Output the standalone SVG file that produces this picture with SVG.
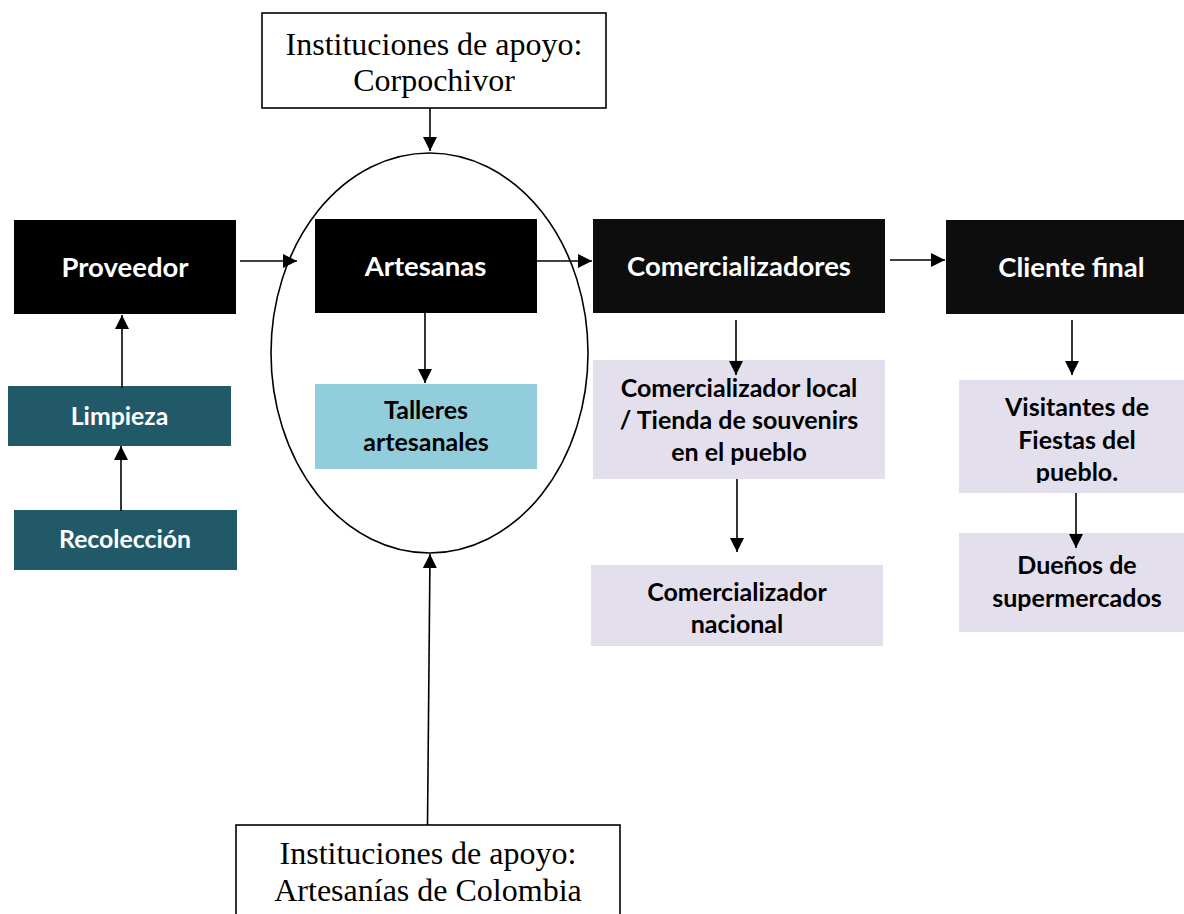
<svg xmlns="http://www.w3.org/2000/svg" width="1184" height="914" viewBox="0 0 1184 914">
<style>
.blk{fill:#000}
.blk2{fill:#0d0d0d}
.teal{fill:#215968}
.lblue{fill:#92cddc}
.lav{fill:#e4dfec}
.inst{fill:#fff;stroke:#000;stroke-width:1.6}
.t{font-family:Lato,"Open Sans","Liberation Sans",sans-serif;font-weight:bold;text-anchor:middle}
.tw{fill:#fff;font-size:27.5px}
.ts{fill:#fff;font-size:24.8px}
.tb{fill:#000;font-size:25px}
.serif{font-family:"Liberation Serif","Times New Roman",serif;font-size:32px;fill:#000;text-anchor:middle}
.c line{stroke:#000;stroke-width:1.6;marker-end:url(#ah)}
</style>
<defs>
<marker id="ah" markerUnits="userSpaceOnUse" markerWidth="14" markerHeight="14" refX="14" refY="7" orient="auto">
<path d="M0,0 L14,7 L0,14 z" fill="#000"/>
</marker>
<clipPath id="clipVis"><rect x="959" y="380" width="225" height="103"/></clipPath>
</defs>
<rect width="1184" height="914" fill="#fff"/>

<g id="artesanos-ellipse">
<ellipse cx="429.5" cy="353" rx="158.5" ry="200" fill="none" stroke="#000" stroke-width="1.6"/>
</g>

<g id="inst-corpochivor">
<rect class="inst" x="262" y="13" width="344" height="95"/>
<text class="serif" x="434" y="55">Instituciones de apoyo:</text>
<text class="serif" x="434" y="91">Corpochivor</text>
</g>

<g id="inst-artesanias">
<rect class="inst" x="236" y="825" width="384" height="100"/>
<text class="serif" x="428" y="864">Instituciones de apoyo:</text>
<text class="serif" x="428" y="901">Artesanías de Colombia</text>
</g>

<g id="proveedor">
<rect class="blk" x="14" y="220" width="222" height="94"/>
<text class="t tw" x="125" y="277">Proveedor</text>
</g>

<g id="artesanas">
<rect class="blk" x="315" y="219" width="222" height="94"/>
<text class="t tw" x="425.5" y="276">Artesanas</text>
</g>

<g id="comercializadores">
<rect class="blk2" x="593" y="219" width="292" height="94"/>
<text class="t tw" x="739" y="276">Comercializadores</text>
</g>

<g id="cliente-final">
<rect class="blk2" x="946" y="220" width="238" height="94"/>
<text class="t tw" x="1071.5" y="277">Cliente final</text>
</g>

<g id="limpieza">
<rect class="teal" x="8" y="386" width="223" height="60"/>
<text class="t ts" x="119.5" y="425">Limpieza</text>
</g>

<g id="recoleccion">
<rect class="teal" x="14" y="510" width="223" height="60"/>
<text class="t ts" x="125" y="548">Recolección</text>
</g>

<g id="talleres">
<rect class="lblue" x="315" y="384" width="222" height="85"/>
<text class="t tb" x="426" y="419">Talleres</text>
<text class="t tb" x="426" y="451">artesanales</text>
</g>

<g id="comercializador-local">
<rect class="lav" x="593" y="360" width="292" height="119"/>
<text class="t tb" x="739" y="397">Comercializador local</text>
<text class="t tb" x="739" y="429">/ Tienda de souvenirs</text>
<text class="t tb" x="739" y="461">en el pueblo</text>
</g>

<g id="comercializador-nacional">
<rect class="lav" x="591" y="565" width="292" height="81"/>
<text class="t tb" x="737" y="601">Comercializador</text>
<text class="t tb" x="737" y="633">nacional</text>
</g>

<g id="visitantes">
<rect class="lav" x="959" y="380" width="225" height="113"/>
<g clip-path="url(#clipVis)">
<text class="t tb" x="1077" y="416">Visitantes de</text>
<text class="t tb" x="1077" y="449">Fiestas del</text>
<text class="t tb" x="1077" y="481">pueblo.</text>
</g>
</g>

<g id="duenos">
<rect class="lav" x="959" y="533" width="225" height="99"/>
<text class="t tb" x="1077" y="574">Dueños de</text>
<text class="t tb" x="1077" y="607">supermercados</text>
</g>

<g id="connectors" class="c">
<line x1="240" y1="261" x2="297" y2="261"/>
<line x1="537" y1="261" x2="592" y2="261"/>
<line x1="890" y1="260" x2="945" y2="260"/>
<line x1="430" y1="108" x2="430" y2="151"/>
<line x1="427.5" y1="825" x2="430" y2="554"/>
<line x1="425" y1="313" x2="425" y2="383"/>
<line x1="122" y1="388" x2="122" y2="315"/>
<line x1="121" y1="511" x2="121" y2="446"/>
<line x1="736" y1="320" x2="736" y2="375"/>
<line x1="737" y1="479" x2="737" y2="552"/>
<line x1="1072" y1="320" x2="1072" y2="375"/>
<line x1="1076" y1="493" x2="1076" y2="548"/>
</g>
</svg>
